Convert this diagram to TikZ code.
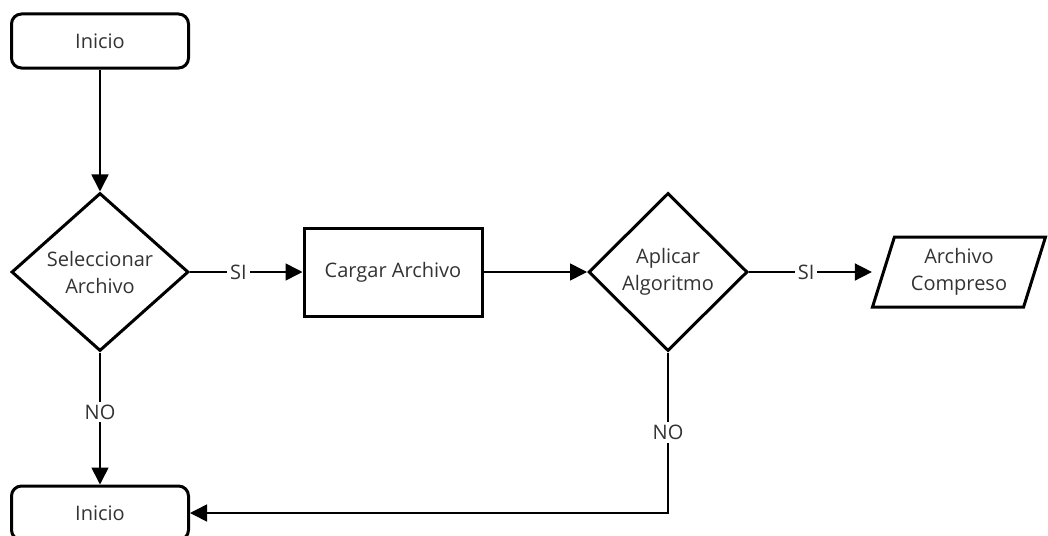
\documentclass[tikz,border=0pt]{standalone}
\usepackage{fontspec}
\setmainfont{Open Sans}
\usetikzlibrary{arrows.meta,shapes.geometric}
\begin{document}
\begin{tikzpicture}[x=1pt,y=-1pt,
  txt/.style={font=\fontsize{20}{27}\selectfont, text=black!80, align=center},
  term/.style={txt, draw, line width=3pt, rounded corners=10pt, minimum width=177pt, minimum height=54pt},
  proc/.style={txt, draw, line width=3pt, minimum width=178pt, minimum height=88pt},
  deci/.style={txt, draw, diamond, line width=3pt, inner sep=0pt, minimum height=158pt},
  datos/.style={txt, draw, trapezium, trapezium left angle=65, trapezium right angle=115, trapezium stretches body, line width=3pt, inner ysep=0pt, inner xsep=-9pt, minimum width=173pt, minimum height=70pt},
  flecha/.style={line width=1.6pt, -{Triangle[length=17pt,width=17pt]}},
  etiq/.style={txt, fill=white, inner sep=3pt}]
\useasboundingbox (0,0) rectangle (1048,535);
\node[term] (inicio1) at (100,41){Inicio};
\node[deci, minimum width=177pt] (selec) at (100,272){Seleccionar\\Archivo};
\node[proc] (cargar) at (393,272){Cargar Archivo};
\node[deci, minimum width=159pt] (aplicar) at (668,272){Aplicar\\Algoritmo};
\node[datos] (compreso) at (959,272){Archivo\\Compreso};
\node[term] (inicio2) at (100,513){Inicio};
\draw[flecha](inicio1) -- (selec);
\draw[flecha](selec) -- node[etiq, pos=0.43]{SI} (cargar);
\draw[flecha](cargar) -- (aplicar);
\draw[flecha, shorten >=10pt](aplicar) -- node[etiq, pos=0.43]{SI} (compreso.west);
\draw[flecha](selec) -- node[etiq, pos=0.45]{NO} (inicio2);
\draw[flecha](aplicar) |- node[etiq, pos=0.25]{NO} (inicio2);
\end{tikzpicture}
\end{document}
